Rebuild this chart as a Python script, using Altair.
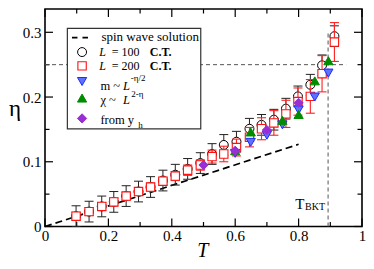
import altair as alt
import pandas as pd

# ---------------- data ----------------
T = [0.098, 0.139, 0.179, 0.217, 0.256, 0.295, 0.333, 0.372, 0.411, 0.45, 0.49,
     0.527, 0.564, 0.604, 0.645, 0.683, 0.722, 0.76, 0.798, 0.837, 0.874, 0.913]
eta_L200 = [0.016, 0.023, 0.031, 0.038, 0.047, 0.054, 0.061, 0.070, 0.078, 0.087, 0.095,
            0.108, 0.112, 0.122, 0.138, 0.151, 0.160, 0.174, 0.193, 0.201, 0.236, 0.285]
err_L200 = [0.006, 0.006, 0.006, 0.006, 0.006, 0.006, 0.006, 0.006, 0.007, 0.008, 0.008,
            0.010, 0.012, 0.013, 0.015, 0.017, 0.019, 0.021, 0.021, 0.026, 0.028, 0.030]
eta_L100 = [0.016, 0.023, 0.031, 0.038, 0.047, 0.054, 0.061, 0.071, 0.080, 0.089, 0.098,
            0.112, 0.126, 0.131, 0.151, 0.157, 0.165, 0.182, 0.201, 0.219, 0.249, 0.294]
err_L100 = [0.016] * 22

T_m = [0.6, 0.649, 0.7, 0.749, 0.8, 0.851, 0.894]
eta_m = [0.113, 0.130, 0.141, 0.157, 0.180, 0.200, 0.237]
T_chi = [0.6, 0.649, 0.749, 0.8, 0.851, 0.894]
eta_chi = [0.117, 0.146, 0.164, 0.173, 0.225, 0.256]
T_yh = [0.5, 0.6, 0.7, 0.8]
eta_yh = [0.095, 0.117, 0.149, 0.191]

sw_T = [0.0, 0.8]
sw_eta = [0.0, 0.127]
eta_c = 0.25
eta_c_Tend = 0.95
T_bkt = 0.893
T_bkt_top = 0.30

x_major = [0.0, 0.2, 0.4, 0.6, 0.8, 1.0]
x_minor = [0.1, 0.3, 0.5, 0.7, 0.9]
y_major = [0.0, 0.1, 0.2, 0.3]
y_minor = [0.05, 0.15, 0.25]

legend_labels = ["spin wave solution", "L", "= 100", "= 200", "C.T.",
                 "m ~ ", "-η/2", "χ ~ ", "2-η", "from y", "h"]
bkt_label = ["T", "BKT"]

# ---------------- layout ----------------
OX, OY = 45.0, 9.0           # page position of plot origin
W = 317.0
H = 217.5
YMAX = 0.336
SVG_W, SVG_H = 357.5, 252.5  # must fit in the 374x269 window with 8px margins
FONT = "Liberation Serif"

# reference-picture coordinates -> plot coordinates
SX = W / 323.2
SY = (H / YMAX) / 675.0


def px(x):
    return (x - 46.5) * SX


def py(y):
    return H - (231.7 - y) * SY


xs = alt.Scale(domain=[0, 1], nice=False, zero=False)
ys = alt.Scale(domain=[0, YMAX], nice=False, zero=False)

xaxis = alt.Axis(values=x_major,
                 labelExpr="datum.value == 0 ? '0' : (datum.value == 1 ? '1' : format(datum.value, '.1f'))",
                 ticks=False, tickSize=0, domain=False, grid=False,
                 labelFont=FONT, labelFontSize=15, labelColor="black", labelPadding=2,
                 labelFlush=False, labelOverlap=False,
                 title="T", titleFont=FONT, titleFontStyle="italic", titleFontSize=20,
                 titleFontWeight="normal", titleColor="black",
                 titleX=px(207), titleY=29.5, titleAlign="center", titleBaseline="alphabetic")
yaxis = alt.Axis(values=y_major,
                 labelExpr="datum.value == 0 ? '0' : format(datum.value, '.1f')",
                 ticks=False, tickSize=0, domain=False, grid=False,
                 labelFont=FONT, labelFontSize=15, labelColor="black", labelPadding=4,
                 labelOverlap=False,
                 title="η", titleFont=FONT, titleFontSize=23, titleFontWeight="normal",
                 titleColor="black", titleAngle=0,
                 titleX=14.5 - OX, titleY=py(116), titleAlign="center", titleBaseline="alphabetic")


def X(f):
    return alt.X(f, type="quantitative", scale=xs, axis=xaxis)


def Y(f):
    return alt.Y(f, type="quantitative", scale=ys, axis=yaxis)


df = pd.DataFrame({"T": T, "e100": eta_L100, "s100": err_L100,
                   "e200": eta_L200, "s200": err_L200})
df_m = pd.DataFrame({"T": T_m, "eta": eta_m})
df_chi = pd.DataFrame({"T": T_chi, "eta": eta_chi})
df_yh = pd.DataFrame({"T": T_yh, "eta": eta_yh})
df_sw = pd.DataFrame({"T": sw_T, "eta": sw_eta})
one = pd.DataFrame({"a": [0]})

layers = []

# frame ticks (inward)
for vals, big in ((x_major, 8), (x_minor, 4.5)):
    d = pd.DataFrame({"v": vals})
    layers.append(alt.Chart(d).mark_rule(color="black", strokeWidth=1.2).encode(
        x=X("v"), y=alt.value(H), y2=alt.value(H - big)))
    layers.append(alt.Chart(d).mark_rule(color="black", strokeWidth=1.2).encode(
        x=X("v"), y=alt.value(0), y2=alt.value(big)))
for vals, big in ((y_major, 8), (y_minor, 4.5)):
    d = pd.DataFrame({"v": vals})
    layers.append(alt.Chart(d).mark_rule(color="black", strokeWidth=1.2).encode(
        y=Y("v"), x=alt.value(0), x2=alt.value(big)))
    layers.append(alt.Chart(d).mark_rule(color="black", strokeWidth=1.2).encode(
        y=Y("v"), x=alt.value(W), x2=alt.value(W - big)))

# reference lines
refh = pd.DataFrame({"T0": [0.0], "T1": [eta_c_Tend], "eta": [eta_c]})
layers.append(alt.Chart(refh).mark_rule(color="#555", strokeWidth=1, strokeDash=[4, 3]).encode(
    x=X("T0"), x2="T1:Q", y=Y("eta")))
refv = pd.DataFrame({"T": [T_bkt], "e0": [0.0], "e1": [T_bkt_top]})
layers.append(alt.Chart(refv).mark_rule(color="#555", strokeWidth=1, strokeDash=[4, 3]).encode(
    x=X("T"), y=Y("e0"), y2="e1:Q"))

# spin wave line
layers.append(alt.Chart(df_sw).mark_line(color="black", strokeWidth=1.7, strokeDash=[7, 4]).encode(
    x=X("T"), y=Y("eta")))

# legend box
layers.append(alt.Chart(one).mark_rect(fill="white", stroke="#333", strokeWidth=1.2).encode(
    x=alt.value(px(69.3)), x2=alt.value(px(205.3)), y=alt.value(py(25)), y2=alt.value(py(130))))

# L=100 error bars (black) and circles
base = alt.Chart(df).transform_calculate(
    lo1="datum.e100 - datum.s100", hi1="datum.e100 + datum.s100",
    lo2="datum.e200 - datum.s200", hi2="datum.e200 + datum.s200")
layers.append(base.mark_rule(color="#222", strokeWidth=1).encode(x=X("T"), y=Y("lo1"), y2="hi1:Q"))
for f in ("lo1", "hi1"):
    layers.append(base.mark_rule(color="#222", strokeWidth=1, xOffset=-4.5, x2Offset=4.5).encode(
        x=X("T"), x2="T:Q", y=Y(f)))
layers.append(base.mark_point(shape="circle", size=80, filled=False, fill="white", fillOpacity=1,
                              stroke="black", strokeWidth=1, opacity=1).encode(x=X("T"), y=Y("e100")))
# L=200 error bars (red) and squares
layers.append(base.mark_rule(color="#ff2020", strokeWidth=1.1).encode(x=X("T"), y=Y("lo2"), y2="hi2:Q"))
for f in ("lo2", "hi2"):
    layers.append(base.mark_rule(color="#ff2020", strokeWidth=1.1, xOffset=-4.5, x2Offset=4.5).encode(
        x=X("T"), x2="T:Q", y=Y(f)))
layers.append(base.mark_point(shape="square", size=70, filled=False, fill="white", fillOpacity=1,
                              stroke="#ff1010", strokeWidth=1.1, opacity=1).encode(x=X("T"), y=Y("e200")))

# other estimates
BLUE_F, BLUE_S = "#5f72ff", "#1a2cff"
GREEN = "#008c00"
PURPLE = "#9a2ed6"
layers.append(alt.Chart(df_m).mark_point(shape="triangle-down", size=85, filled=True, fill=BLUE_F,
                                         stroke=BLUE_S, strokeWidth=1, opacity=1).encode(x=X("T"), y=Y("eta")))
layers.append(alt.Chart(df_chi).mark_point(shape="triangle-up", size=85, filled=True, fill=GREEN,
                                           stroke=GREEN, strokeWidth=1, opacity=1).encode(x=X("T"), y=Y("eta")))
layers.append(alt.Chart(df_yh).mark_point(shape="diamond", size=85, filled=True, fill=PURPLE,
                                          stroke=PURPLE, strokeWidth=1, opacity=1).encode(x=X("T"), y=Y("eta")))

# legend contents
layers.append(alt.Chart(one).mark_rule(color="black", strokeWidth=1.7, strokeDash=[5.5, 5]).encode(
    x=alt.value(px(74)), x2=alt.value(px(90.5)), y=alt.value(py(34.7))))
sym_x = px(84.3)
layers.append(alt.Chart(one).mark_point(shape="circle", size=80, filled=False, stroke="black",
                                        strokeWidth=1, opacity=1).encode(x=alt.value(sym_x), y=alt.value(py(49.8))))
layers.append(alt.Chart(one).mark_point(shape="square", size=70, filled=False, stroke="#ff1010",
                                        strokeWidth=1.1, opacity=1).encode(x=alt.value(sym_x), y=alt.value(py(64.2))))
layers.append(alt.Chart(one).mark_point(shape="triangle-down", size=85, filled=True, fill=BLUE_F,
                                        stroke=BLUE_S, strokeWidth=1, opacity=1).encode(x=alt.value(sym_x), y=alt.value(py(80.5))))
layers.append(alt.Chart(one).mark_point(shape="triangle-up", size=85, filled=True, fill=GREEN,
                                        stroke=GREEN, strokeWidth=1, opacity=1).encode(x=alt.value(sym_x), y=alt.value(py(97.8))))
layers.append(alt.Chart(one).mark_point(shape="diamond", size=85, filled=True, fill=PURPLE,
                                        stroke=PURPLE, strokeWidth=1, opacity=1).encode(x=alt.value(sym_x), y=alt.value(py(119))))


def txt(x, y, s, size=12.5, style="normal", weight="normal"):
    return alt.Chart(one).mark_text(text=s, align="left", baseline="alphabetic", font=FONT,
                                    fontSize=size, fontStyle=style, fontWeight=weight,
                                    color="black").encode(x=alt.value(px(x)), y=alt.value(py(y)))


L = legend_labels
layers += [
    txt(104, 38, L[0], size=13),
    txt(101.7, 54.4, L[1], size=12, style="italic"), txt(114.5, 54.4, L[2], size=12),
    txt(153.3, 54.4, L[4], size=12, weight="bold"),
    txt(101.7, 68, L[1], size=12, style="italic"), txt(114.5, 68, L[3], size=12),
    txt(153.3, 68, L[4], size=12, weight="bold"),
    txt(103, 89, L[5]), txt(126, 89, L[1], style="italic"), txt(134, 80, L[6], size=9),
    txt(103, 103.5, L[7]), txt(126, 103.5, L[1], style="italic"), txt(134.5, 96.5, L[8], size=9),
    txt(103, 125, L[9]), txt(141.5, 129, L[10], size=9),
    txt(301.7, 213.3, bkt_label[0], size=15), txt(311.7, 215, bkt_label[1], size=10),
]

chart = alt.layer(*layers).properties(
    width=W, height=H,
    padding={"left": OX - 8, "top": OY - 8, "right": SVG_W - (OX - 8) - W,
             "bottom": SVG_H - (OY - 8) - H},
    autosize=alt.AutoSizeParams(type="none"),
).configure_view(stroke="black", strokeWidth=1.6)

chart.save("out.html", embed_options={"renderer": "svg", "actions": False})
